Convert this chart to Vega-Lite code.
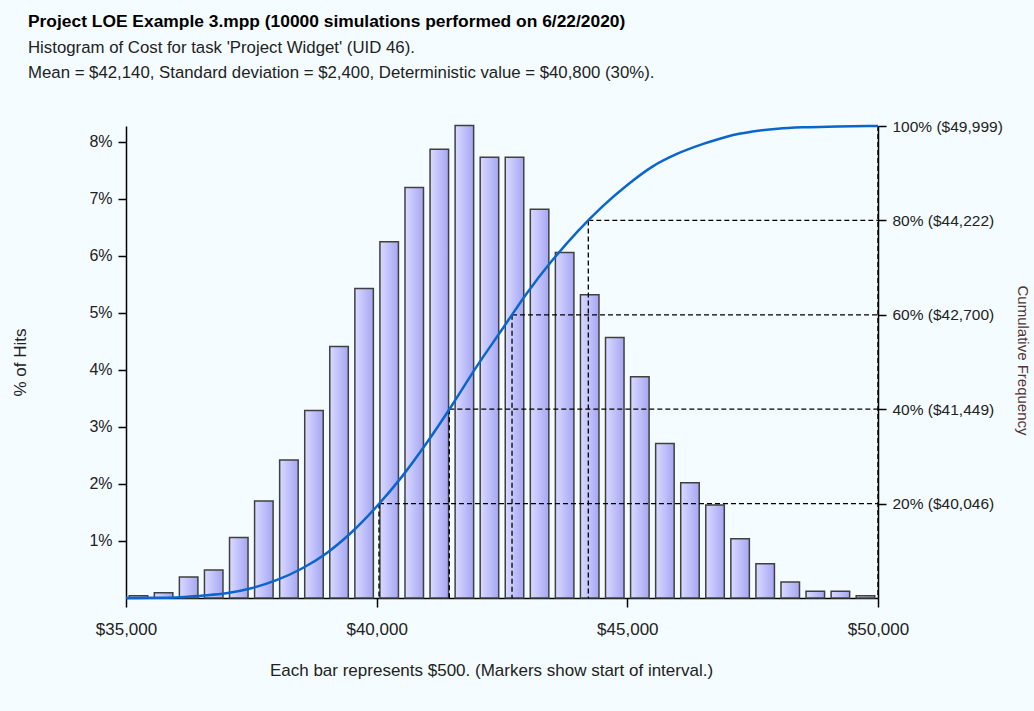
{
  "$schema": "https://vega.github.io/schema/vega-lite/v6.json",
  "width": 752,
  "height": 472,
  "autosize": {"type": "none"},
  "padding": {"left": 126, "top": 126, "right": 156, "bottom": 113},
  "background": "#F4FCFF",
  "config": {
    "font": "Liberation Sans",
    "view": {"stroke": null},
    "axis": {
      "grid": false,
      "domainColor": "#000000",
      "domainWidth": 1.5,
      "tickColor": "#000000",
      "tickWidth": 1.5,
      "labelColor": "#222222",
      "labelFontSize": 16,
      "labelFlush": false,
      "titleFontWeight": "normal",
      "titleColor": "#222222",
      "titleFontSize": 17
    }
  },
  "title": {
    "text": "Project LOE Example 3.mpp (10000 simulations performed on 6/22/2020)",
    "subtitle": [
      "Histogram of Cost for task 'Project Widget' (UID 46).",
      "Mean = $42,140, Standard deviation = $2,400, Deterministic value = $40,800 (30%)."
    ],
    "anchor": "start",
    "frame": "group",
    "dx": -98,
    "offset": 37,
    "fontSize": 17.4,
    "fontWeight": "bold",
    "color": "#000000",
    "subtitleFontSize": 16.8,
    "subtitleColor": "#222222",
    "subtitlePadding": 10,
    "subtitleLineHeight": 25
  },
  "datasets": {
    "bars": [
      {"start": 35000, "end": 35500, "pct": 0.04},
      {"start": 35500, "end": 36000, "pct": 0.09},
      {"start": 36000, "end": 36500, "pct": 0.37},
      {"start": 36500, "end": 37000, "pct": 0.49},
      {"start": 37000, "end": 37500, "pct": 1.06},
      {"start": 37500, "end": 38000, "pct": 1.70},
      {"start": 38000, "end": 38500, "pct": 2.42},
      {"start": 38500, "end": 39000, "pct": 3.29},
      {"start": 39000, "end": 39500, "pct": 4.41},
      {"start": 39500, "end": 40000, "pct": 5.43},
      {"start": 40000, "end": 40500, "pct": 6.25},
      {"start": 40500, "end": 41000, "pct": 7.20},
      {"start": 41000, "end": 41500, "pct": 7.87},
      {"start": 41500, "end": 42000, "pct": 8.29},
      {"start": 42000, "end": 42500, "pct": 7.73},
      {"start": 42500, "end": 43000, "pct": 7.73},
      {"start": 43000, "end": 43500, "pct": 6.82},
      {"start": 43500, "end": 44000, "pct": 6.06},
      {"start": 44000, "end": 44500, "pct": 5.32},
      {"start": 44500, "end": 45000, "pct": 4.57},
      {"start": 45000, "end": 45500, "pct": 3.88},
      {"start": 45500, "end": 46000, "pct": 2.71},
      {"start": 46000, "end": 46500, "pct": 2.02},
      {"start": 46500, "end": 47000, "pct": 1.63},
      {"start": 47000, "end": 47500, "pct": 1.04},
      {"start": 47500, "end": 48000, "pct": 0.60},
      {"start": 48000, "end": 48500, "pct": 0.28},
      {"start": 48500, "end": 49000, "pct": 0.12},
      {"start": 49000, "end": 49500, "pct": 0.12},
      {"start": 49500, "end": 50000, "pct": 0.04}
    ],
    "cdf": [
      {"cost": 35000, "cum": 0},
      {"cost": 35500, "cum": 0.04},
      {"cost": 36000, "cum": 0.13},
      {"cost": 36500, "cum": 0.50},
      {"cost": 37000, "cum": 0.99},
      {"cost": 37500, "cum": 2.06},
      {"cost": 38000, "cum": 3.77},
      {"cost": 38500, "cum": 6.20},
      {"cost": 39000, "cum": 9.50},
      {"cost": 39500, "cum": 13.93},
      {"cost": 40000, "cum": 19.38},
      {"cost": 40500, "cum": 25.66},
      {"cost": 41000, "cum": 32.89},
      {"cost": 41500, "cum": 40.79},
      {"cost": 42000, "cum": 49.12},
      {"cost": 42500, "cum": 56.88},
      {"cost": 43000, "cum": 64.64},
      {"cost": 43500, "cum": 71.49},
      {"cost": 44000, "cum": 77.57},
      {"cost": 44500, "cum": 82.92},
      {"cost": 45000, "cum": 87.51},
      {"cost": 45500, "cum": 91.40},
      {"cost": 46000, "cum": 94.13},
      {"cost": 46500, "cum": 96.15},
      {"cost": 47000, "cum": 97.79},
      {"cost": 47500, "cum": 98.83},
      {"cost": 48000, "cum": 99.43},
      {"cost": 48500, "cum": 99.72},
      {"cost": 49000, "cum": 99.84},
      {"cost": 49500, "cum": 99.96},
      {"cost": 50000, "cum": 100}
    ],
    "pcts": [
      {"cost": 40046, "cum": 20},
      {"cost": 41449, "cum": 40},
      {"cost": 42700, "cum": 60},
      {"cost": 44222, "cum": 80},
      {"cost": 49999, "cum": 100}
    ]
  },
  "layer": [
    {
      "data": {"name": "bars"},
      "mark": {
        "type": "bar",
        "xOffset": 3.25,
        "x2Offset": -3.3,
        "stroke": "#404040",
        "strokeWidth": 1.5,
        "fill": {
          "gradient": "linear",
          "x1": 0, "x2": 1, "y1": 0, "y2": 0,
          "stops": [
            {"offset": 0, "color": "#DADAFF"},
            {"offset": 0.5, "color": "#C0C0FB"},
            {"offset": 1, "color": "#A6A6F2"}
          ]
        }
      },
      "encoding": {
        "x": {
          "field": "start",
          "type": "quantitative",
          "scale": {"domain": [35000, 50000], "nice": false, "zero": false},
          "axis": {
            "values": [35000, 40000, 45000, 50000],
            "format": "$,.0f",
            "labelFontSize": 17,
            "tickSize": 9,
            "labelPadding": 14,
            "title": "Each bar represents $500. (Markers show start of interval.)",
            "titleX": 365,
            "titleY": 72,
            "titleAlign": "center",
            "titleBaseline": "middle"
          }
        },
        "x2": {"field": "end"},
        "y": {
          "field": "pct",
          "type": "quantitative",
          "scale": {"domain": [0, 8.28], "nice": false},
          "axis": {
            "orient": "left",
            "values": [1, 2, 3, 4, 5, 6, 7, 8],
            "labelExpr": "datum.value + '%'",
            "tickSize": 8,
            "labelPadding": 6,
            "title": "% of Hits",
            "titleX": -106,
            "titleY": 236,
            "titleAngle": -90,
            "titleAlign": "center",
            "titleBaseline": "middle"
          }
        },
        "y2": {"datum": 0}
      }
    },
    {
      "data": {"name": "cdf"},
      "encoding": {
        "x": {
          "field": "cost",
          "type": "quantitative",
          "axis": {
            "values": [35000, 40000, 45000, 50000],
            "format": "$,.0f",
            "labelFontSize": 17,
            "tickSize": 9,
            "labelPadding": 14,
            "title": "Each bar represents $500. (Markers show start of interval.)",
            "titleX": 365,
            "titleY": 72,
            "titleAlign": "center",
            "titleBaseline": "middle"
          }
        },
        "y": {
          "field": "cum",
          "type": "quantitative",
          "scale": {"domain": [0, 100], "nice": false},
          "axis": {
            "orient": "right",
            "values": [20, 40, 60, 80, 100],
            "labelExpr": "datum.value == 20 ? '20% ($40,046)' : datum.value == 40 ? '40% ($41,449)' : datum.value == 60 ? '60% ($42,700)' : datum.value == 80 ? '80% ($44,222)' : '100% ($49,999)'",
            "tickSize": 8,
            "labelPadding": 6,
            "labelFontSize": 15.5,
            "title": "Cumulative Frequency",
            "titleX": 139,
            "titleY": 234,
            "titleAngle": 90,
            "titleAlign": "center",
            "titleBaseline": "alphabetic",
            "titleFontSize": 15,
            "titleColor": "#553333"
          }
        }
      },
      "layer": [
        {
          "data": {"name": "pcts"},
          "mark": {"type": "rule", "color": "#000000", "strokeWidth": 1.3, "strokeDash": [5, 3]},
          "encoding": {"x2": {"datum": 50000}}
        },
        {
          "data": {"name": "pcts"},
          "mark": {"type": "rule", "color": "#000000", "strokeWidth": 1.3, "strokeDash": [5, 3]},
          "encoding": {"y2": {"datum": 0}}
        },
        {
          "mark": {"type": "line", "color": "#0A66CC", "strokeWidth": 2.5, "interpolate": "monotone"}
        }
      ]
    }
  ],
  "resolve": {"scale": {"y": "independent"}}
}
